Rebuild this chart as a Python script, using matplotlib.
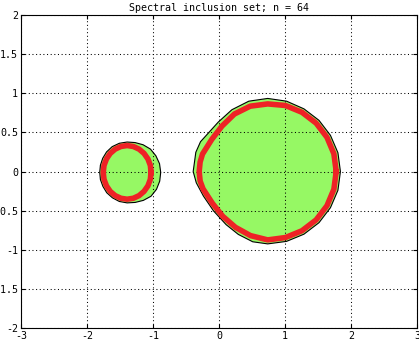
import matplotlib
matplotlib.use("Agg")
import matplotlib.pyplot as plt

# === Boundary points (data units) ===
# large component: green inclusion region and red curve
big_green_x = [1.840, 1.802, 1.689, 1.515, 1.287, 1.024, 0.738, 0.452, 0.196, -0.012,
               -0.148, -0.280, -0.351, -0.391, -0.344, -0.235, -0.083, 0.108, 0.293,
               0.511, 0.738, 1.023, 1.287, 1.515, 1.689, 1.802]
big_green_y = [0.000, 0.240, 0.462, 0.654, 0.801, 0.899, 0.934, 0.899, 0.790, 0.631,
               0.504, 0.381, 0.246, 0.000, -0.144, -0.315, -0.503, -0.679, -0.804,
               -0.898, -0.925, -0.893, -0.801, -0.654, -0.462, -0.240]

big_red_x = [1.776, 1.741, 1.636, 1.472, 1.257, 1.006, 0.738, 0.473, 0.234, 0.047,
             -0.109, -0.250, -0.286, -0.300, -0.286, -0.242, -0.099, 0.058, 0.249,
             0.477, 0.738, 1.006, 1.257, 1.472, 1.636, 1.741]
big_red_y = [0.000, 0.226, 0.437, 0.618, 0.757, 0.844, 0.864, 0.835, 0.735, 0.582,
             0.411, 0.223, 0.121, 0.000, -0.121, -0.221, -0.407, -0.573, -0.713,
             -0.819, -0.874, -0.844, -0.757, -0.618, -0.437, -0.226]

# small component
small_green_x = [-0.883, -0.901, -0.956, -1.039, -1.150, -1.271, -1.392, -1.510, -1.618,
                 -1.703, -1.762, -1.797, -1.807, -1.797, -1.759, -1.701, -1.615, -1.510,
                 -1.392, -1.269, -1.146, -1.030, -0.947, -0.898]
small_green_y = [-0.011, 0.100, 0.201, 0.287, 0.342, 0.370, 0.377, 0.361, 0.318,
                 0.251, 0.169, 0.080, -0.011, -0.102, -0.190, -0.271, -0.336, -0.383,
                 -0.401, -0.395, -0.369, -0.316, -0.228, -0.123]

small_red_x = [-1.030, -1.040, -1.077, -1.136, -1.211, -1.298, -1.392, -1.486, -1.573,
               -1.648, -1.705, -1.742, -1.754, -1.742, -1.705, -1.648, -1.573, -1.486,
               -1.392, -1.298, -1.211, -1.136, -1.077, -1.040]
small_red_y = [-0.011, 0.078, 0.161, 0.232, 0.286, 0.320, 0.332, 0.320, 0.286,
               0.232, 0.161, 0.078, -0.011, -0.100, -0.183, -0.254, -0.308, -0.342,
               -0.354, -0.342, -0.308, -0.254, -0.183, -0.100]

xticks = [-3, -2, -1, 0, 1, 2, 3]
yticks = [-2, -1.5, -1, -0.5, 0, 0.5, 1, 1.5, 2]
ytick_labels = ["-2", "-1.5", "-1", "-0.5", "0", "0.5", "1", "1.5", "2"]
xtick_labels = ["-3", "-2", "-1", "0", "1", "2", "3"]

GREEN = "#96f864"
RED = "#ee2226"

plt.rcParams["axes.unicode_minus"] = False
plt.rcParams["font.family"] = ["DejaVu Sans Mono"]
fig = plt.figure(figsize=(4.19, 3.43), dpi=100)
ax = fig.add_axes([0.0501, 0.0437, 0.9451, 0.9125])

# === Regions ===
for gx, gy in [(big_green_x, big_green_y), (small_green_x, small_green_y)]:
    ax.fill(gx, gy, facecolor=GREEN, edgecolor="black", linewidth=0.8,
            joinstyle="round", zorder=1)

for rx, ry in [(big_red_x, big_red_y), (small_red_x, small_red_y)]:
    ax.plot(rx + rx[:1], ry + ry[:1], color=RED, linewidth=4.0,
            solid_joinstyle="round", zorder=3)

# === Axes styling ===
ax.set_xlim(-3, 3)
ax.set_ylim(-2, 2)
ax.set_xticks(xticks)
ax.set_xticklabels(xtick_labels)
ax.set_yticks(yticks)
ax.set_yticklabels(ytick_labels)
ax.grid(True, color="black", linestyle=(0, (1, 2.5)), linewidth=0.75)
for gl in ax.get_xgridlines() + ax.get_ygridlines():
    gl.set_zorder(2)
ax.tick_params(direction="in", length=3, width=0.8, labelsize=7.2, pad=2,
               top=True, right=True)
for s in ax.spines.values():
    s.set_linewidth(0.8)
    s.set_zorder(4)
ax.set_title("Spectral inclusion set; n = 64", fontsize=7.2, pad=3)

fig.savefig("out.png", dpi=100)
